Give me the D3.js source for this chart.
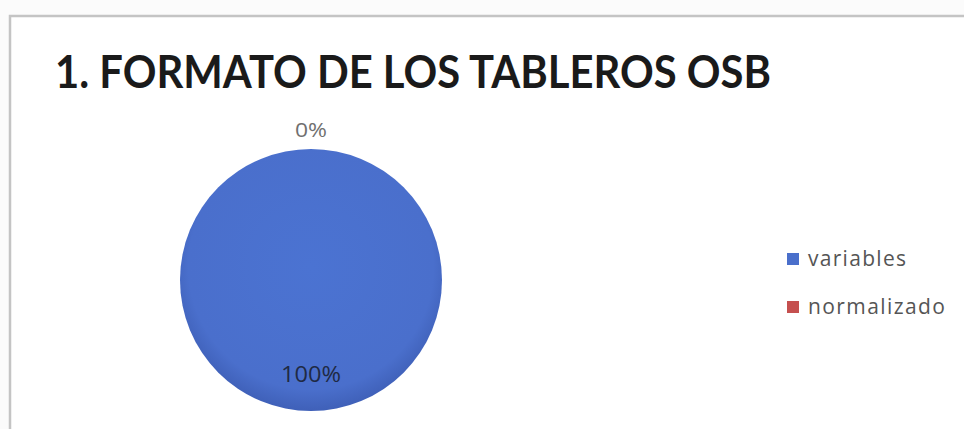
<!DOCTYPE html>
<html lang="es">
<head>
<meta charset="UTF-8">
<title>Formato de los tableros OSB</title>
<script src="https://d3js.org/d3.v7.min.js"></script>
<style>
  body { margin: 0; background: #ffffff; }
  svg text { font-family: "Open Sans", "Noto Sans", sans-serif; }
  svg text.title { font-family: Lato, "Open Sans", sans-serif; }
</style>
</head>
<body>
<svg id="chart"></svg>
<script>
// data
var categories = ["variables", "normalizado"];
var values = [100, 0];
var colors = ["#4a6fcb", "#c5504f"];
var title = "1. FORMATO DE LOS TABLEROS OSB";

var width = 964, height = 429;
var svg = d3.select("#chart").attr("width", width).attr("height", height);

// frame of the chart area (scanned look)
svg.append("rect").attr("x", 0).attr("y", 0).attr("width", width).attr("height", height).attr("fill", "#fbfbfb");
svg.append("rect").attr("x", 10).attr("y", 16).attr("width", width).attr("height", height)
  .attr("fill", "#ffffff").attr("stroke", "#c4c4c4").attr("stroke-width", 2.5);

svg.append("text")
  .attr("class", "title")
  .attr("x", 55).attr("y", 88)
  .attr("font-size", 46).attr("font-weight", "bold")
  .attr("fill", "#1a1a1a")
  .attr("textLength", 716).attr("lengthAdjust", "spacingAndGlyphs")
  .text(title);

var cx = 311, cy = 280, r = 131;
var data = categories.map(function(c, i) { return {name: c, value: values[i], color: colors[i]}; });

var pie = d3.pie().sort(null).value(function(d) { return d.value; });
var arc = d3.arc().innerRadius(0).outerRadius(r);
var arcs = pie(data);

var defs = svg.append("defs");
var grad = defs.append("radialGradient").attr("id", "blueGrad")
  .attr("cx", "50%").attr("cy", "45%").attr("r", "55%");
grad.append("stop").attr("offset", "0%").attr("stop-color", "#4b73d2");
grad.append("stop").attr("offset", "85%").attr("stop-color", "#4a6fcc");
grad.append("stop").attr("offset", "100%").attr("stop-color", "#3f60b8");

var g = svg.append("g").attr("transform", "translate(" + cx + "," + cy + ")");
g.selectAll("path")
  .data(arcs)
  .enter().append("path")
  .attr("d", arc)
  .attr("fill", function(d, i) { return i === 0 ? "url(#blueGrad)" : d.data.color; })
  .attr("stroke", "none");

// percentage labels: 100% inside near bottom, 0% above the pie
var total = d3.sum(values);
g.append("text")
  .attr("x", 0).attr("y", 102)
  .attr("text-anchor", "middle").attr("font-size", 21).attr("fill", "#1f2a44")
  .attr("textLength", 60).attr("lengthAdjust", "spacingAndGlyphs")
  .text(Math.round(values[0] / total * 100) + "%");
g.append("text")
  .attr("x", 0).attr("y", -143)
  .attr("text-anchor", "middle").attr("font-size", 20).attr("fill", "#707070")
  .attr("textLength", 32).attr("lengthAdjust", "spacingAndGlyphs")
  .text(Math.round(values[1] / total * 100) + "%");

// legend
var legendWidths = [98, 137];
var legend = svg.append("g").attr("transform", "translate(787,253)");
var item = legend.selectAll("g").data(data).enter().append("g")
  .attr("transform", function(d, i) { return "translate(0," + (i * 48) + ")"; });
item.append("rect").attr("width", 12).attr("height", 12)
  .attr("fill", function(d) { return d.color; });
item.append("text").attr("x", 21).attr("y", 13)
  .attr("font-size", 21).attr("fill", "#555555")
  .attr("textLength", function(d, i) { return legendWidths[i]; })
  .attr("lengthAdjust", "spacing")
  .text(function(d) { return d.name; });
</script>
</body>
</html>
